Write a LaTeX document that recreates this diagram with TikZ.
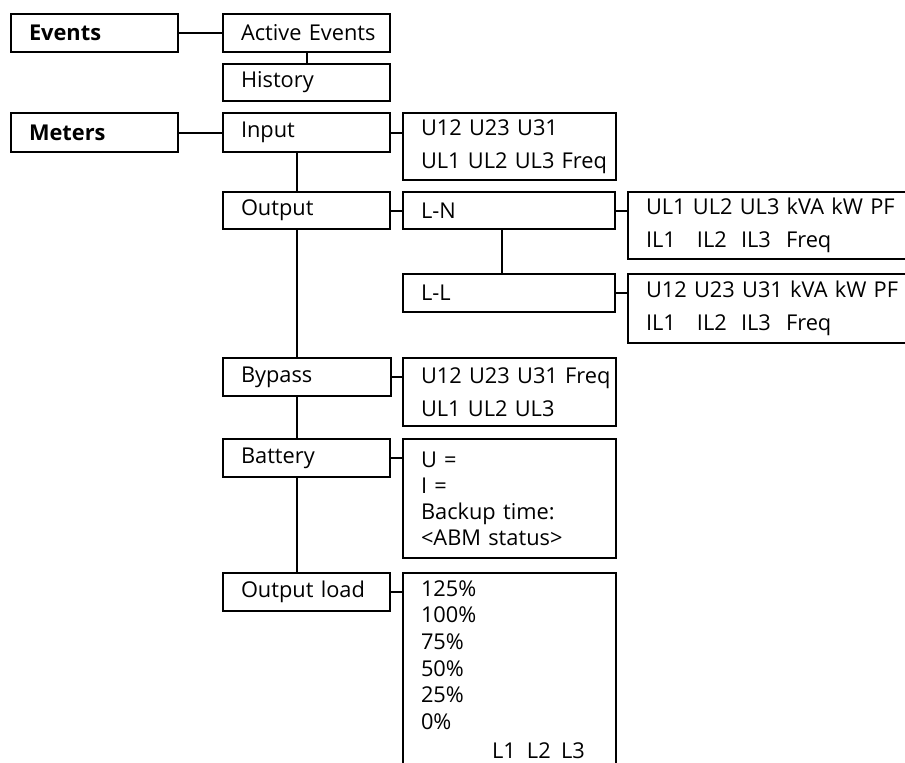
\documentclass[tikz,border=0pt]{standalone}
\usepackage{fontspec}
\setmainfont{Open Sans}
\begin{document}
\begin{tikzpicture}[x=1pt,y=-1pt,
  box/.style={draw, line width=2pt, rectangle, anchor=north west, outer sep=0pt,
    inner xsep=18pt, inner ysep=0pt, align=left,
    font=\fontsize{21.8}{26}\selectfont},
  bw/.style={text width=#1pt-36pt},
  link/.style={line width=2pt}]
\useasboundingbox (0,0) rectangle (905,763);
\clip (0,0) rectangle (905,763);
\coordinate (trunk) at (297,0);
\coordinate (ltrunk) at (502,0);

\node[box, bw=167, minimum height=38pt] (events) at (11,14) {\mbox{\textbf{Events}}};
\node[box, bw=167, minimum height=38pt] (active) at (223,14) {\mbox{Active Events}};
\node[box, bw=167, minimum height=37pt] (history) at (223,64) {\mbox{History}};
\node[box, bw=167, minimum height=39pt] (meters) at (11,113) {\mbox{\textbf{Meters}}};
\node[box, bw=167, minimum height=39pt] (input) at (223,113) {\mbox{Input}};
\node[box, bw=213, minimum height=67pt] (inputdata) at (403,113) {\mbox{U12 U23 U31}\\[7.5pt]\mbox{UL1 UL2 UL3 Freq}};
\node[box, bw=167, minimum height=37pt] (output) at (223,192) {\mbox{Output}};
\node[box, bw=212, minimum height=37pt] (ln) at (403,192) {\mbox{L-N}};
\node[box, bw=300, minimum height=67pt] (lndata) at (628,192) {\mbox{UL1 UL2 UL3 kVA kW PF}\\[7.5pt]\mbox{\makebox[51pt][l]{IL1}\makebox[44pt][l]{IL2}\makebox[45pt][l]{IL3}Freq}};
\node[box, bw=212, minimum height=38pt] (ll) at (403,274) {\mbox{L-L}};
\node[box, bw=300, minimum height=69pt] (lldata) at (628,274) {\mbox{U12 U23 U31 kVA kW PF}\\[7.5pt]\mbox{\makebox[51pt][l]{IL1}\makebox[44pt][l]{IL2}\makebox[45pt][l]{IL3}Freq}};
\node[box, bw=168, minimum height=38pt] (bypass) at (223,358) {\mbox{Bypass}};
\node[box, bw=213, minimum height=68pt] (bypassdata) at (403,358) {\mbox{U12 U23 U31 Freq}\\[7.5pt]\mbox{UL1 UL2 UL3}};
\node[box, bw=167, minimum height=38pt] (battery) at (223,439) {\mbox{Battery}};
\node[box, bw=213, minimum height=119pt] (batterydata) at (403,439) {\mbox{U =}\\\mbox{I =}\\\mbox{Backup time:}\\\mbox{<ABM status>}};
\node[box, bw=167, minimum height=38pt] (outload) at (223,573) {\mbox{Output load}};
\node[box, bw=213, minimum height=193pt, font=\fontsize{21.8}{26.7}\selectfont] (outloaddata) at (403,573)
  {125\%\\100\%\\75\%\\50\%\\25\%\\0\%\\[2pt]\mbox{\hspace*{71pt}\makebox[35pt][l]{L1}\makebox[34pt][l]{L2}L3}};

\draw[link] (events.east) -- (active.west);
\draw[link] (active.south) -- (history.north);
\draw[link] (meters.east) -- (input.west);
\draw[link] (input.east) -- (input.east -| inputdata.west);
\draw[link] (input.south -| trunk) -- (output.north -| trunk);
\draw[link] (output.east) -- (output.east -| ln.west);
\draw[link] (ln.east) -- (ln.east -| lndata.west);
\draw[link] (ln.south -| ltrunk) -- (ll.north -| ltrunk);
\draw[link] (ll.east) -- (ll.east -| lldata.west);
\draw[link] (output.south -| trunk) -- (bypass.north -| trunk);
\draw[link] (bypass.east) -- (bypass.east -| bypassdata.west);
\draw[link] (bypass.south -| trunk) -- (battery.north -| trunk);
\draw[link] (battery.east) -- (battery.east -| batterydata.west);
\draw[link] (battery.south -| trunk) -- (outload.north -| trunk);
\draw[link] (outload.east) -- (outload.east -| outloaddata.west);
\end{tikzpicture}
\end{document}
